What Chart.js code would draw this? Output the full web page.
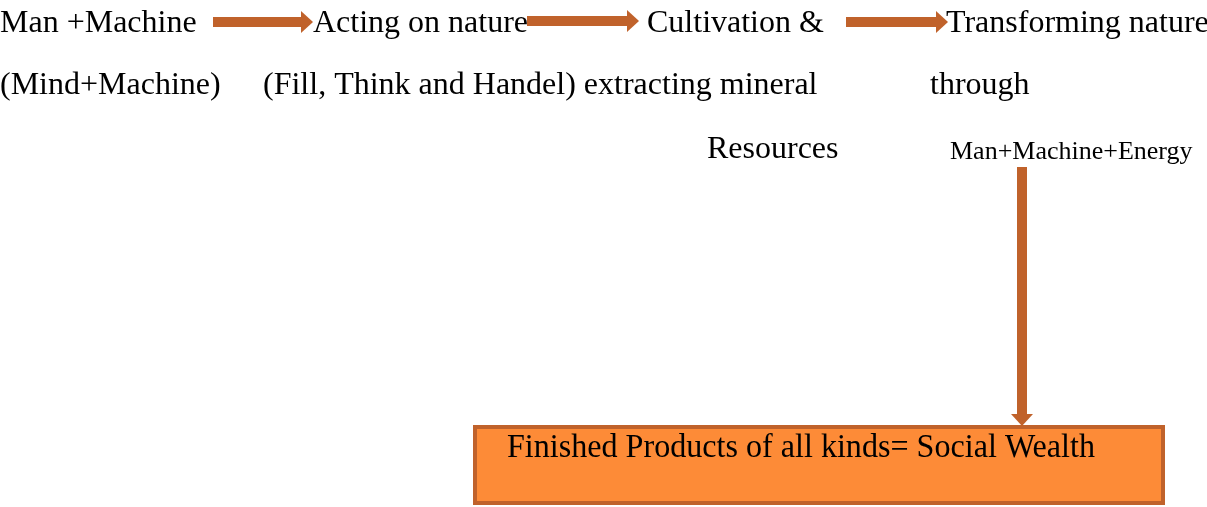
<html>
<head>
<title>Social Wealth</title>
<script src="https://cdn.jsdelivr.net/npm/chart.js@4.4.1/dist/chart.umd.min.js"></script>
<style>
  body { margin: 0; background: #ffffff; }
  #wrap { width: 1207px; height: 507px; }
</style>
</head>
<body>
<div id="wrap"><canvas id="diagram" width="1207" height="507"></canvas></div>
<script>
// page units = pixels of the original picture
var labelTexts = ["Man +Machine", "Acting on nature", "Cultivation &", "Transforming nature",
                  "(Mind+Machine)", "(Fill, Think and Handel) extracting mineral", "through",
                  "Resources", "Man+Machine+Energy"];
var labelX = [0, 313, 647, 946, 0, 263, 930, 707, 950];
var labelY = [24, 24, 24, 24, 86, 86, 86, 150, 152];
var labelSize = [32, 32, 32, 32, 32, 32, 32, 32, 26];

// arrows: start point -> tip
var arrowX0 = [213, 527, 846, 1022];
var arrowY0 = [22, 21, 22, 167];
var arrowX1 = [313, 639, 948, 1022];
var arrowY1 = [22, 21, 22, 426];

// result box
var boxText = "Finished Products of all kinds= Social Wealth";
var boxLeft = 475, boxRight = 1163, boxTop = 427, boxBottom = 503;

var brown = '#c0622b';
var orange = '#fd8b37';
var headLen = 12, headHalf = 11;

var datasets = [];
for (i = 0; i < arrowX0.length; i++) {
  // shaft stops where the head begins
  var dx = arrowX1[i] - arrowX0[i], dy = arrowY1[i] - arrowY0[i];
  var len = Math.sqrt(dx * dx + dy * dy);
  datasets.push({
    type: 'line',
    data: [{x: arrowX0[i], y: arrowY0[i]},
           {x: arrowX1[i] - dx / len * (headLen - 1), y: arrowY1[i] - dy / len * (headLen - 1)}],
    borderColor: brown,
    borderWidth: 10,
    borderCapStyle: 'butt',
    pointRadius: 0,
    fill: false
  });
}

var diagramPlugin = {
  id: 'diagram',
  beforeDatasetsDraw: function (chart) {
    var ctx = chart.ctx, xs = chart.scales.x, ys = chart.scales.y;
    // box
    var l = xs.getPixelForValue(boxLeft), r = xs.getPixelForValue(boxRight);
    var t = ys.getPixelForValue(boxTop), b = ys.getPixelForValue(boxBottom);
    ctx.save();
    ctx.fillStyle = orange;
    ctx.fillRect(l, t, r - l, b - t);
    ctx.strokeStyle = brown;
    ctx.lineWidth = 4;
    ctx.strokeRect(l, t, r - l, b - t);
    ctx.restore();
  },
  afterDatasetsDraw: function (chart) {
    var ctx = chart.ctx, xs = chart.scales.x, ys = chart.scales.y;
    ctx.save();
    // arrow heads
    ctx.fillStyle = brown;
    for (i = 0; i < arrowX0.length; i++) {
      var tx = xs.getPixelForValue(arrowX1[i]), ty = ys.getPixelForValue(arrowY1[i]);
      var fx = xs.getPixelForValue(arrowX0[i]), fy = ys.getPixelForValue(arrowY0[i]);
      var a = Math.atan2(ty - fy, tx - fx);
      ctx.beginPath();
      ctx.moveTo(tx, ty);
      ctx.lineTo(tx - headLen * Math.cos(a) - headHalf * Math.sin(a), ty - headLen * Math.sin(a) + headHalf * Math.cos(a));
      ctx.lineTo(tx - headLen * Math.cos(a) + headHalf * Math.sin(a), ty - headLen * Math.sin(a) - headHalf * Math.cos(a));
      ctx.closePath();
      ctx.fill();
    }
    // labels
    ctx.fillStyle = '#000000';
    ctx.textBaseline = 'middle';
    ctx.textAlign = 'left';
    for (i = 0; i < labelTexts.length; i++) {
      ctx.font = labelSize[i] + 'px "Liberation Serif", "Times New Roman", serif';
      ctx.fillText(labelTexts[i], xs.getPixelForValue(labelX[i]), ys.getPixelForValue(labelY[i]));
    }
    // box text, narrow like the original
    ctx.font = '33px "Liberation Serif", "Times New Roman", serif';
    ctx.textBaseline = 'alphabetic';
    var w = ctx.measureText(boxText).width;
    var bx = xs.getPixelForValue(507), by = ys.getPixelForValue(457);
    ctx.translate(bx, by);
    ctx.scale(588 / w, 1);
    ctx.fillText(boxText, 0, 0);
    ctx.restore();
  }
};

new Chart(document.getElementById('diagram'), {
  type: 'line',
  data: { datasets: datasets },
  options: {
    responsive: false,
    animation: false,
    layout: { padding: 0 },
    plugins: { legend: { display: false }, tooltip: { enabled: false } },
    scales: {
      x: { type: 'linear', min: 0, max: 1207, display: false },
      y: { type: 'linear', min: 0, max: 507, reverse: true, display: false }
    }
  },
  plugins: [diagramPlugin]
});
</script>
</body>
</html>
